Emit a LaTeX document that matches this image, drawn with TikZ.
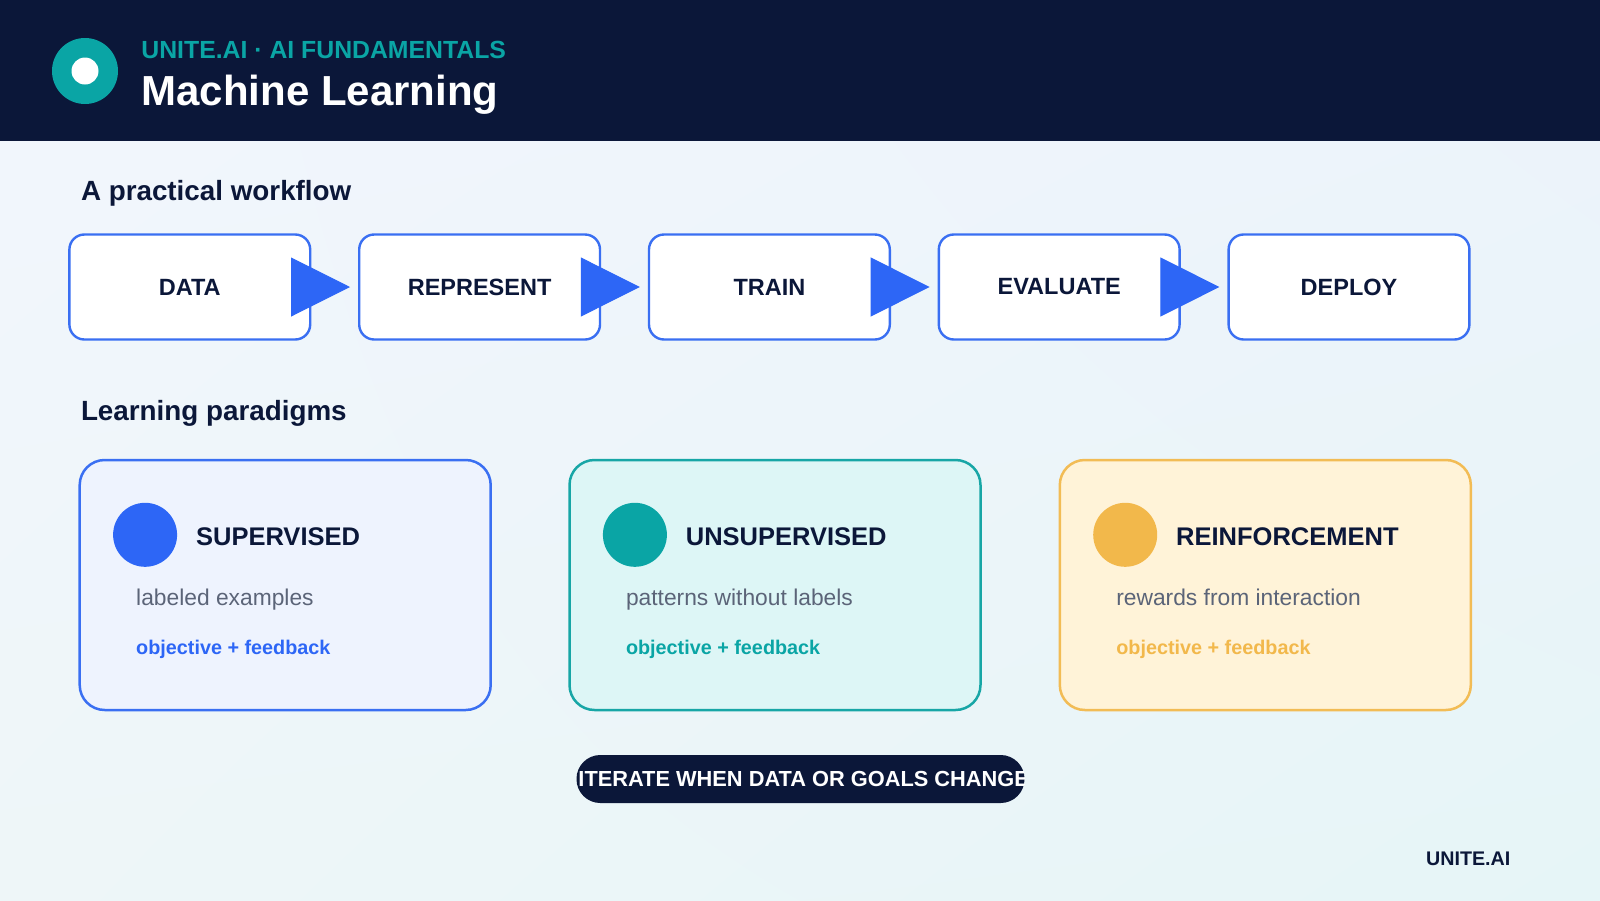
\documentclass[tikz,border=0pt]{standalone}
\usepackage{fontspec}
\setmainfont{Liberation Sans}
\usetikzlibrary{arrows.meta,calc,shadings}
\definecolor{navy}{HTML}{0B1739}
\definecolor{mlteal}{HTML}{0AA5A5}
\definecolor{mlblue}{HTML}{2D66F6}
\definecolor{mlborder}{HTML}{3A6FF2}
\definecolor{mlgold}{HTML}{F2B84B}
\definecolor{mlgray}{HTML}{5B6478}
\definecolor{cafill}{HTML}{EEF3FE}
\definecolor{cbfill}{HTML}{DDF6F6}
\definecolor{ccfill}{HTML}{FFF3D8}
\definecolor{cbline}{HTML}{17A6A6}
\definecolor{ccline}{HTML}{F2BC55}
\definecolor{bgA}{HTML}{F2F6FD}
\definecolor{bgB}{HTML}{EDF3FB}
\definecolor{bgC}{HTML}{EEF6F8}
\definecolor{bgD}{HTML}{E6F5F7}
\begin{document}
\begin{tikzpicture}[x=0.5pt,y=-0.5pt,
  heading/.style={anchor=base west, inner sep=0pt, font=\bfseries\fontsize{13.9pt}{16pt}\selectfont, text=navy},
  stepbox/.style={draw=mlborder, line width=1.2pt, fill=white, rounded corners=7.5pt, minimum width=120.4pt, minimum height=52.5pt, inner sep=0pt, font=\bfseries\fontsize{11.75pt}{14pt}\selectfont, text=navy},
  flowarrow/.style={mlblue, line width=0.5pt, -{Triangle[length=29.5pt,width=29.5pt]}, shorten >=4pt},
  card/.style={line width=1.25pt, rounded corners=12.5pt, minimum width=205.5pt, minimum height=125pt, inner sep=0pt, outer sep=0pt},
  dotmark/.style={circle, minimum size=32pt, inner sep=0pt},
  cardtitle/.style={anchor=base west, inner sep=0pt, font=\bfseries\fontsize{12.75pt}{15pt}\selectfont, text=navy},
  carddesc/.style={anchor=base west, inner sep=0pt, font=\fontsize{11.4pt}{14pt}\selectfont, text=mlgray},
  cardtag/.style={anchor=base west, inner sep=0pt, font=\bfseries\fontsize{9.9pt}{12pt}\selectfont},
  pill/.style={fill=navy, rounded corners=11.9pt, minimum width=224pt, minimum height=24pt, inner sep=0pt,
    path picture={\node[text=white, inner sep=0pt, font=\bfseries\fontsize{10.9pt}{13pt}\selectfont] at ([xshift=1.6pt]path picture bounding box.center) {ITERATE WHEN DATA OR GOALS CHANGE};}}
]
\useasboundingbox (0,0) rectangle (1600,900);
\shade[upper left=bgA, upper right=bgB, lower left=bgC, lower right=bgD] (0,0) rectangle (1600,900);
% header
\fill[navy] (0,0) rectangle (1600,141);
\node[circle, fill=mlteal, minimum size=33pt, inner sep=0pt] (logo) at (85,71) {};
\node[circle, fill=white, minimum size=13.5pt, inner sep=0pt] (logodot) at (logo.center) {};
\node[anchor=base west, inner sep=0pt, text=mlteal, font=\bfseries\fontsize{12.4pt}{14pt}\selectfont] (kicker) at (141,58) {UNITE.AI · AI FUNDAMENTALS};
\node[anchor=base west, inner sep=0pt, text=white, font=\bfseries\fontsize{21pt}{24pt}\selectfont] (title) at (141,105) {Machine Learning};
% workflow
\node[heading] (wfhead) at (80.6,200) {A practical workflow};
\node[stepbox] (s1) at (189.8,287) {DATA};
\node[stepbox] (s2) at (479.6,287) {REPRESENT};
\node[stepbox] (s3) at (769.4,287) {TRAIN};
\node[stepbox] (s4) at (1059.2,287) {EVALUATE};
\node[stepbox] (s5) at (1349.0,287) {DEPLOY};
\draw[flowarrow] (s1.east) -- (s2.west);
\draw[flowarrow] (s2.east) -- (s3.west);
\draw[flowarrow] (s3.east) -- (s4.west);
\draw[flowarrow] (s4.east) -- (s5.west);
% paradigms
\node[heading] (lphead) at (80.6,420.5) {Learning paradigms};
\foreach \n/\cx/\fc/\lc/\dc/\tc/\ttl/\dsc in {
  sup/285.2/cafill/mlborder/mlblue/mlblue/SUPERVISED/labeled examples,
  uns/775.0/cbfill/cbline/mlteal/mlteal/UNSUPERVISED/patterns without labels,
  rei/1265.3/ccfill/ccline/mlgold/mlgold/REINFORCEMENT/rewards from interaction}{
  \node[card, fill=\fc, draw=\lc] (\n) at (\cx,585) {};
  \node[dotmark, fill=\dc] (\n dot) at ($(\n.north west)+(65.4,74.8)$) {};
  \node[cardtitle] (\n title) at ($(\n.north west)+(116,85)$) {\ttl};
  \node[carddesc] (\n desc) at ($(\n.north west)+(56.1,145)$) {\dsc};
  \node[cardtag, text=\tc] (\n tag) at ($(\n.north west)+(56.1,194)$) {objective + feedback};
}
% iterate pill
\node[pill] (iter) at (800.5,779) {};
% footer
\node[anchor=base west, inner sep=0pt, text=navy, font=\bfseries\fontsize{9.85pt}{12pt}\selectfont] (brand) at (1425.7,865) {UNITE.AI};
\end{tikzpicture}
\end{document}
